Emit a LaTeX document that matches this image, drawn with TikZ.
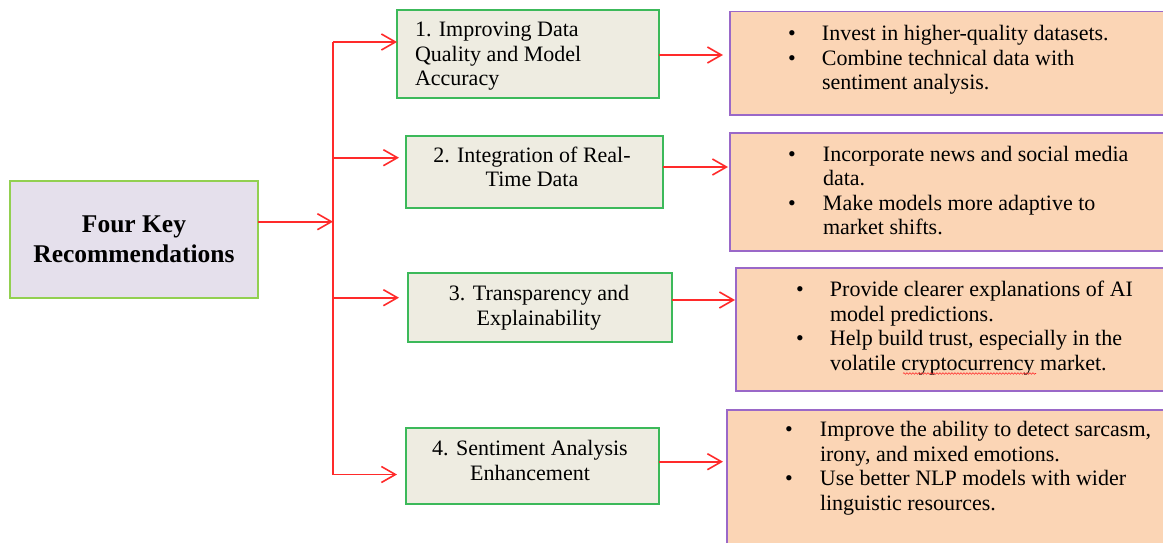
\documentclass[tikz,border=0pt]{standalone}
\usepackage{fontspec}
\setmainfont{Liberation Serif}
\usetikzlibrary{arrows.meta,decorations.pathmorphing}
\definecolor{rootfill}{HTML}{E5E0EC}
\definecolor{rootline}{HTML}{92D050}
\definecolor{midfill}{HTML}{EEECE1}
\definecolor{midline}{HTML}{3CB95A}
\definecolor{recfill}{HTML}{FBD5B5}
\definecolor{recline}{HTML}{9A68C8}
\definecolor{linkred}{HTML}{FF2A2A}
\begin{document}
\begin{tikzpicture}[x=1pt,y=-1pt,
  box/.style={inner sep=0pt,outer sep=0pt,line width=1.6pt},
  rootbox/.style={box,draw=rootline,fill=rootfill},
  midbox/.style={box,draw=midline,fill=midfill},
  recbox/.style={box,draw=recline,fill=recfill},
  txt/.style={inner sep=0pt,outer sep=0pt,font=\fontsize{22}{24.6}\selectfont},
  titletxt/.style={inner sep=0pt,outer sep=0pt,font=\fontsize{25.5}{30}\selectfont\bfseries},
  link/.style={draw=linkred,line width=1.7pt},
  arr/.style={link,-{Straight Barb[length=14pt,width=16pt,line width=1.6pt]}}]
\useasboundingbox (0,0) rectangle (1163,543);
\clip (0,0) rectangle (1163,543);

% boxes
\node[rootbox,minimum width=248pt,minimum height=117pt] (root) at (134,239.5) {};
\node[midbox,minimum width=262pt,minimum height=88pt] (m1) at (528,54) {};
\node[midbox,minimum width=257pt,minimum height=72pt] (m2) at (534.5,172) {};
\node[midbox,minimum width=264pt,minimum height=69pt] (m3) at (540,307.5) {};
\node[midbox,minimum width=253pt,minimum height=76pt] (m4) at (532.5,466) {};
\node[recbox,minimum width=450pt,minimum height=103.3pt] (r1) at (955,63.35) {};
\node[recbox,minimum width=450pt,minimum height=117.7pt] (r2) at (955,191.85) {};
\node[recbox,minimum width=444pt,minimum height=122.7pt] (r3) at (958,329.35) {};
\node[recbox,minimum width=453pt,minimum height=150pt] (r4) at (953.5,485) {};

% texts
\node[titletxt,anchor=base] (roottext) at (134,232.7)
  {\begin{tabular}[t]{@{}c@{}}Four Key\\Recommendations\end{tabular}};
\node[txt,anchor=base west] (m1text) at (415,36.7)
  {\begin{tabular}[t]{@{}l@{}}1. Improving Data\\Quality and Model\\Accuracy\end{tabular}};
\node[txt,anchor=base] (m2text) at (532,162)
  {\begin{tabular}[t]{@{}c@{}}2. Integration of Real-\\Time Data\end{tabular}};
\node[txt,anchor=base] (m3text) at (539,300.7)
  {\begin{tabular}[t]{@{}c@{}}3. Transparency and\\Explainability\end{tabular}};
\node[txt,anchor=base] (m4text) at (530,455.7)
  {\begin{tabular}[t]{@{}c@{}}4. Sentiment Analysis\\Enhancement\end{tabular}};

\node[txt,anchor=base west] (r1text) at (788,40.7)
  {\begin{tabular}[t]{@{}p{34pt}@{}l@{}}
   \textbullet & Invest in higher-quality datasets.\\
   \textbullet & Combine technical data with\\
   & sentiment analysis.\end{tabular}};
\node[txt,anchor=base west] (r2text) at (788,161)
  {\begin{tabular}[t]{@{}p{35pt}@{}l@{}}
   \textbullet & Incorporate news and social media\\
   & data.\\
   \textbullet & Make models more adaptive to\\
   & market shifts.\end{tabular}};
\node[txt,anchor=base west] (r3text) at (796,296.7)
  {\begin{tabular}[t]{@{}p{34pt}@{}l@{}}
   \textbullet & Provide clearer explanations of AI\\
   & model predictions.\\
   \textbullet & Help build trust, especially in the\\
   & volatile cryptocurrency market.\end{tabular}};
\node[txt,anchor=base west] (r4text) at (785,436.7)
  {\begin{tabular}[t]{@{}p{35pt}@{}l@{}}
   \textbullet & Improve the ability to detect sarcasm,\\
   & irony, and mixed emotions.\\
   \textbullet & Use better NLP models with wider\\
   & linguistic resources.\end{tabular}};

% spell-check squiggle under "cryptocurrency"
\draw[linkred,line width=0.6pt,decorate,decoration={snake,amplitude=0.8pt,segment length=3pt}]
  (903,373.5) -- (1036,373.5);

% connectors
\coordinate (tj) at (333,221.7);
\coordinate (ttop) at (333,42);
\coordinate (tb2) at (333,157.7);
\coordinate (tb3) at (333,297.7);
\coordinate (tbot) at (333,474.5);
\draw[link] (ttop) -- (tbot);
\draw[arr] (root.east |- tj) -- (tj);
\draw[arr] (ttop) -- (ttop -| m1.west);
\draw[arr,shorten >=7pt] (tb2) -- (tb2 -| m2.west);
\draw[arr,shorten >=9pt] (tb3) -- (tb3 -| m3.west);
\draw[arr,shorten >=9pt] (tbot) -- (tbot -| m4.west);

\draw[arr,shorten >=7pt] (m1.east |- 0,55) -- (r1.west |- 0,55);
\draw[arr,shorten >=2pt] (m2.east |- 0,167) -- (r2.west |- 0,167);
\draw[arr,shorten >=1pt] (m3.east |- 0,300) -- (r3.west |- 0,300);
\draw[arr,shorten >=4pt] (m4.east |- 0,461.7) -- (r4.west |- 0,461.7);
\end{tikzpicture}
\end{document}
